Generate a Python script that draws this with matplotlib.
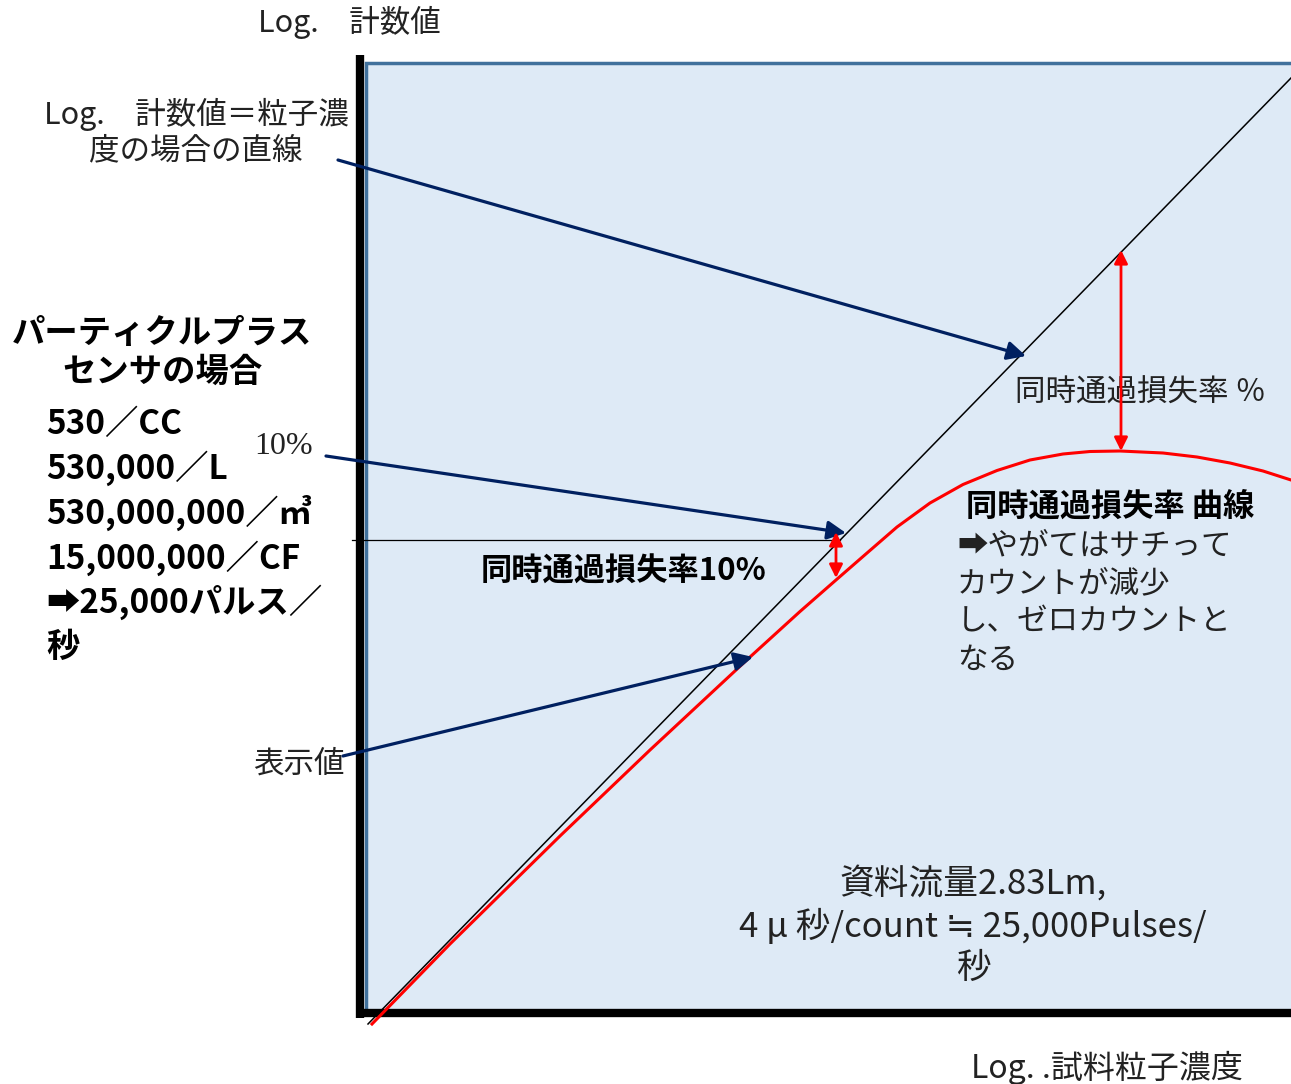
import matplotlib.pyplot as plt
from matplotlib.patches import Rectangle

plt.rcParams['font.family'] = ['Noto Sans CJK JP', 'DejaVu Sans']

# ideal line: log count == particle concentration (pixel space of the drawing)
ideal_x = [368, 1291]
ideal_y = [1024, 78]

# coincidence loss curve (shown value)
curve_x = [372, 450, 560, 650, 750, 800, 836, 863, 897, 930, 963, 997, 1030, 1063,
           1090, 1120, 1163, 1197, 1230, 1263, 1291]
curve_y = [1024, 944, 836, 750, 657, 611.5, 580, 556.5, 527, 503, 484.5, 470.5, 460, 454,
           451.5, 451, 453, 457, 463, 471, 480]

# 10% threshold line
level_x = [352, 840]
level_y = [540, 540]

# navy callout arrows: (start, end)
callouts = [((338, 160), (1026, 356)),
            ((326, 456), (846, 533)),
            ((343, 756), (753, 657))]

# red gap arrows
gaps = [((836, 532), (836, 578)),
        ((1121, 250), (1121, 451))]

sensor_lines = ['530／CC', '530,000／L', '530,000,000／㎥', '15,000,000／CF',
                '➡25,000パルス／', '秒']

fig = plt.figure(figsize=(12.91, 10.84), dpi=100)
ax = fig.add_axes([0, 0, 1, 1])
ax.set_xlim(0, 1291)
ax.set_ylim(1084, 0)
ax.axis('off')

# plot area
ax.add_patch(Rectangle((366, 63), 960, 950, facecolor='#DEEAF6',
                       edgecolor='#41719C', lw=2.5, zorder=1))
ax.plot([360, 360], [55, 1018], color='black', lw=6, solid_capstyle='butt', zorder=3)
ax.plot([356, 1291], [1013, 1013], color='black', lw=6, solid_capstyle='butt', zorder=3)

ax.plot(ideal_x, ideal_y, color='black', lw=1.1, zorder=4)
ax.plot(curve_x, curve_y, color='red', lw=2.2, zorder=4, solid_joinstyle='round')
ax.plot(level_x, level_y, color='black', lw=0.9, zorder=4)

for (x0, y0), (x1, y1) in callouts:
    ax.annotate('', xy=(x1, y1), xytext=(x0, y0),
                arrowprops=dict(arrowstyle='-|>', color='#002060', lw=2.3,
                                mutation_scale=28, shrinkA=0, shrinkB=0), zorder=5)

for (x0, y0), (x1, y1) in gaps:
    ax.annotate('', xy=(x1, y1), xytext=(x0, y0),
                arrowprops=dict(arrowstyle='<|-|>', color='red', lw=2.0,
                                mutation_scale=20, shrinkA=0, shrinkB=0), zorder=5)

# texts
ax.text(258, 22, 'Log.　計数値', fontsize=22, ha='left', va='center', color='#222222')
ax.text(196, 132, 'Log.　計数値＝粒子濃\n度の場合の直線', fontsize=22, ha='center',
        va='center', linespacing=1.15, color='#222222')
ax.text(162, 353, 'パーティクルプラス\nセンサの場合', fontsize=24, fontweight='bold',
        ha='center', va='center', linespacing=1.25)
for i, line in enumerate(sensor_lines):
    ax.text(46, 424 + i * 44.6, line, fontsize=24, fontweight='bold',
            ha='left', va='center')
ax.text(254, 446, '10%', fontsize=23, family=['Liberation Serif'], ha='left',
        va='center', color='#222222')
ax.text(253, 764, '表示値', fontsize=22, ha='left', va='center', color='#222222')
ax.text(481, 572, '同時通過損失率10%', fontsize=22.5, fontweight='bold',
        ha='left', va='center')
ax.text(1015, 393, '同時通過損失率 ％', fontsize=22, ha='left', va='center', color='#222222')
ax.text(966, 507, '同時通過損失率 曲線', fontsize=22.5, fontweight='bold',
        ha='left', va='center')
ax.text(957, 603, '➡やがてはサチって\nカウントが減少\nし、ゼロカウントと\nなる',
        fontsize=22, ha='left', va='center', linespacing=1.3, color='#222222')
ax.text(973, 926, '資料流量2.83Lm,\n4 μ 秒/count ≒ 25,000Pulses/\n秒', fontsize=25,
        ha='center', va='center', linespacing=1.25, color='#222222')
ax.text(971, 1068, 'Log. .試料粒子濃度', fontsize=23, ha='left', va='center',
        color='#222222')

fig.savefig('out.png', dpi=100)
